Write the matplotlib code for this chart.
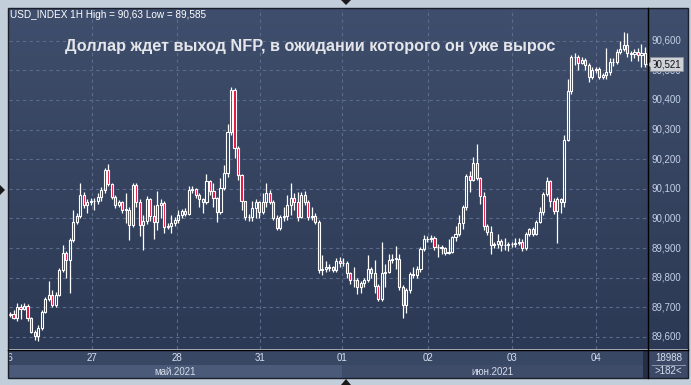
import numpy as np
import matplotlib.pyplot as plt
from matplotlib.patches import Rectangle, Polygon
from matplotlib.colors import LinearSegmentedColormap

plt.rcParams['font.family'] = ['Liberation Sans', 'DejaVu Sans']

# --- данные (часовые свечи USD_INDEX) ---
first_open = 89.675
closes = [
    89.678, 89.665, 89.702, 89.695, 89.705, 89.664, 89.618, 89.603, 89.630, 89.685,
    89.728, 89.742, 89.708, 89.742, 89.826, 89.883, 89.860, 89.927, 89.989, 90.008,
    90.079, 90.045, 90.057, 90.060, 90.058, 90.074, 90.096, 90.163, 90.115, 90.074,
    90.045, 90.055, 90.029, 90.030, 89.978, 90.113, 90.057, 89.978, 89.990, 90.065,
    90.008, 89.989, 90.045, 90.052, 89.972, 89.975, 89.985, 89.995, 90.012, 90.025,
    90.015, 90.096, 90.098, 90.079, 90.066, 90.055, 90.126, 90.092, 90.068, 90.023,
    90.102, 90.152, 90.291, 90.434, 90.237, 90.147, 90.059, 90.006, 90.004, 90.034,
    90.057, 90.022, 90.057, 90.087, 90.057, 90.001, 89.967, 90.006, 90.008, 90.045,
    90.068, 90.057, 90.006, 90.079, 90.057, 90.006, 90.008, 89.989, 89.826, 89.828,
    89.835, 89.835, 89.826, 89.858, 89.849, 89.851, 89.815, 89.792, 89.792, 89.768,
    89.783, 89.792, 89.828, 89.817, 89.772, 89.727, 89.815, 89.820, 89.860, 89.864,
    89.864, 89.770, 89.708, 89.759, 89.813, 89.808, 89.828, 89.896, 89.930, 89.930,
    89.933, 89.903, 89.903, 89.900, 89.885, 89.888, 89.936, 89.948, 89.984, 90.038,
    90.143, 90.130, 90.188, 90.136, 90.076, 89.975, 89.955, 89.910, 89.914, 89.925,
    89.910, 89.912, 89.913, 89.914, 89.918, 89.922, 89.899, 89.948, 89.964, 89.948,
    89.989, 90.023, 90.083, 90.126, 90.060, 90.026, 90.065, 90.057, 90.265, 90.430,
    90.544, 90.544, 90.526, 90.533, 90.518, 90.476, 90.501, 90.503, 90.476, 90.484,
    90.493, 90.529, 90.527, 90.563, 90.571, 90.585, 90.557, 90.554, 90.560, 90.552,
    90.557, 90.521,
]
highs = [
    89.685, 89.690, 89.714, 89.712, 89.715, 89.712, 89.668, 89.625, 89.640, 89.690,
    89.735, 89.790, 89.760, 89.752, 89.832, 89.912, 89.890, 89.935, 90.030, 90.020,
    90.119, 90.090, 90.065, 90.070, 90.068, 90.085, 90.105, 90.170, 90.184, 90.120,
    90.080, 90.062, 90.060, 90.085, 90.040, 90.121, 90.118, 90.065, 90.010, 90.075,
    90.070, 90.045, 90.092, 90.065, 90.060, 89.985, 90.010, 90.005, 90.030, 90.032,
    90.035, 90.110, 90.108, 90.102, 90.085, 90.070, 90.150, 90.130, 90.120, 90.072,
    90.135, 90.180, 90.320, 90.445, 90.440, 90.245, 90.150, 90.060, 90.015, 90.060,
    90.065, 90.060, 90.085, 90.120, 90.095, 90.062, 90.010, 90.012, 90.040, 90.078,
    90.120, 90.085, 90.090, 90.090, 90.092, 90.062, 90.040, 90.020, 89.995, 89.878,
    89.858, 89.845, 89.840, 89.866, 89.870, 89.865, 89.855, 89.820, 89.836, 89.800,
    89.790, 89.800, 89.875, 89.835, 89.860, 89.780, 89.922, 89.845, 89.880, 89.880,
    89.906, 89.880, 89.775, 89.765, 89.820, 89.835, 89.840, 89.905, 89.945, 89.940,
    89.945, 89.940, 89.915, 89.910, 89.905, 89.930, 89.940, 89.975, 90.010, 90.045,
    90.150, 90.160, 90.207, 90.251, 90.140, 90.090, 89.980, 89.975, 89.920, 89.948,
    89.930, 89.935, 89.920, 89.920, 89.935, 89.935, 89.930, 89.955, 89.968, 89.970,
    89.995, 90.040, 90.090, 90.141, 90.130, 90.070, 90.072, 90.068, 90.280, 90.470,
    90.552, 90.558, 90.550, 90.545, 90.540, 90.525, 90.512, 90.512, 90.510, 90.490,
    90.575, 90.540, 90.540, 90.570, 90.600, 90.630, 90.627, 90.565, 90.570, 90.575,
    90.590, 90.580,
]
lows = [
    89.668, 89.660, 89.655, 89.660, 89.690, 89.655, 89.612, 89.590, 89.585, 89.625,
    89.680, 89.720, 89.700, 89.700, 89.738, 89.820, 89.800, 89.750, 89.920, 89.980,
    90.000, 90.035, 90.020, 90.045, 90.030, 90.050, 90.060, 90.085, 90.110, 90.065,
    90.035, 90.040, 90.020, 89.985, 89.927, 89.970, 90.040, 89.940, 89.893, 89.980,
    89.990, 89.930, 89.960, 90.000, 89.950, 89.965, 89.950, 89.975, 89.985, 90.000,
    90.008, 90.010, 90.085, 90.070, 90.040, 90.020, 90.050, 90.080, 90.040, 89.988,
    90.015, 90.095, 90.140, 90.280, 90.205, 90.130, 90.030, 89.995, 89.992, 89.990,
    90.000, 90.000, 90.015, 90.040, 90.050, 89.995, 89.960, 89.960, 89.990, 89.995,
    90.010, 90.030, 89.990, 90.000, 90.045, 89.995, 89.995, 89.980, 89.815, 89.808,
    89.820, 89.822, 89.818, 89.820, 89.835, 89.838, 89.800, 89.780, 89.770, 89.745,
    89.750, 89.770, 89.785, 89.800, 89.750, 89.720, 89.720, 89.770, 89.815, 89.850,
    89.830, 89.760, 89.664, 89.680, 89.750, 89.800, 89.800, 89.820, 89.890, 89.920,
    89.920, 89.895, 89.870, 89.880, 89.875, 89.880, 89.885, 89.925, 89.940, 89.965,
    90.030, 90.090, 90.125, 90.130, 90.050, 89.960, 89.945, 89.880, 89.900, 89.900,
    89.890, 89.895, 89.890, 89.905, 89.905, 89.910, 89.890, 89.895, 89.940, 89.940,
    89.945, 89.985, 90.010, 90.075, 90.040, 90.015, 89.918, 90.020, 90.040, 90.260,
    90.420, 90.518, 90.500, 90.520, 90.500, 90.460, 90.470, 90.490, 90.470, 90.470,
    90.470, 90.485, 90.515, 90.520, 90.555, 90.565, 90.545, 90.530, 90.540, 90.530,
    90.510, 90.510,
]
opens = [first_open] + closes[:-1]

price_levels = [89.6, 89.7, 89.8, 89.9, 90.0, 90.1, 90.2, 90.3, 90.4, 90.5, 90.6]
price_labels = ['89,600', '89,700', '89,800', '89,900', '90,000', '90,100',
                '90,200', '90,300', '90,400', '90,500', '90,600']
day_labels = ['26', '27', '28', '31', '01', '02', '03', '04']
day_starts = [-0.6, 23.4, 47.6, 71.3, 94.6, 119.1, 143.1, 167.1]
month_labels = ['май.2021', 'июн.2021']
last_price = 90.521
last_label = '90,521'
header = 'USD_INDEX 1H High = 90,63 Low = 89,585'
title = 'Доллар ждет выход NFP, в ожидании которого он уже вырос'
total_bars = '18988'
shown_bars = '>182<'

# --- оформление ---
W, H = 691, 385
XLIM = (-0.285, 181.86)
YLIM = (89.5595, 90.710)
frame_col = '#c3cedb'
red = '#e3103c'
grid_col = '#5b6b8b'
bg_cmap = LinearSegmentedColormap.from_list('bg', ['#3f4e6c', '#2c3954'])
grad = np.linspace(0, 1, 256).reshape(-1, 1)

fig = plt.figure(figsize=(W / 100, H / 100), dpi=100)
fig.patch.set_facecolor(frame_col)


def px_axes(x0, y0, x1, y1, z=1):
    a = fig.add_axes([x0 / W, 1 - y1 / H, (x1 - x0) / W, (y1 - y0) / H])
    a.set_zorder(z)
    return a


# основная область
ax = px_axes(9, 8, 648, 349)
ax.set_xlim(*XLIM)
ax.set_ylim(*YLIM)
ax.imshow(grad, cmap=bg_cmap, extent=[XLIM[0], XLIM[1], YLIM[0], YLIM[1]],
          aspect='auto', zorder=0)
for s in ax.spines.values():
    s.set_visible(False)
ax.set_xticks([])
ax.set_yticks([])

for lv in price_levels:
    ax.axhline(lv, color=grid_col, lw=0.8, ls=(0, (3, 3)), zorder=1)
for d in day_starts[1:]:
    ax.axvline(d, color=grid_col, lw=0.8, ls=(0, (3, 3)), zorder=1)

# свечи
for i, (o, h, l, c) in enumerate(zip(opens, highs, lows, closes)):
    lo, hi = min(o, c), max(o, c)
    if hi - lo < 0.002:
        mid = (hi + lo) / 2
        lo, hi = mid - 0.001, mid + 0.001
    ax.vlines(i, hi, max(h, hi), color='white', lw=0.9, zorder=3)
    ax.vlines(i, min(l, lo), lo, color='white', lw=0.9, zorder=3)
    fc = red if c < o else 'none'
    ax.add_patch(Rectangle((i - 0.3, lo), 0.6, hi - lo, facecolor=fc,
                           edgecolor='white', lw=0.8, zorder=4))

ax.text(1 / 639, 1 - 7 / 341, header, transform=ax.transAxes, ha='left', va='center',
        fontsize=7.2, color='white', zorder=6)
ax.text(301 / 639, 1 - 39 / 341, title, transform=ax.transAxes, ha='center', va='center',
        fontsize=11.7, fontweight='bold', color='#e4e6ea', zorder=6)

# правая шкала цен
ax_r = px_axes(649, 8, 688, 349)
ax_r.set_xlim(0, 39)
ax_r.set_ylim(*YLIM)
ax_r.imshow(grad, cmap=bg_cmap, extent=[0, 39, YLIM[0], YLIM[1]], aspect='auto', zorder=0)
ax_r.axis('off')
for lv, lab in zip(price_levels, price_labels):
    ax_r.text(3, lv, lab, ha='left', va='center', fontsize=7, color='#c3d0e6', zorder=2)
ax_r.text(3, last_price, last_label, ha='left', va='center', fontsize=7, color='#111111',
          zorder=5, bbox=dict(boxstyle='square,pad=0.18', fc='#cfd2d8', ec='#8a8f99', lw=0.6))
ax_r.plot([0.8], [last_price], marker='<', ms=4, color='#cfd2d8', zorder=5, clip_on=False)

# нижняя шкала дат
ax_b = px_axes(9, 351, 648, 378)
ax_b.set_xlim(*XLIM)
ax_b.set_ylim(0, 1)
ax_b.axis('off')
ax_b.add_patch(Rectangle((XLIM[0], 0), XLIM[1] - XLIM[0], 1, fc='#384764', ec='none', zorder=0))
ax_b.add_patch(Rectangle((XLIM[0], 0), day_starts[4] - XLIM[0], 0.5, fc='#4b5a78', ec='none', zorder=1))
ax_b.add_patch(Rectangle((day_starts[4], 0), 180.4 - day_starts[4], 0.5, fc='#3e4c69', ec='none', zorder=1))
ax_b.add_patch(Rectangle((180.4, 0), XLIM[1] - 180.4, 1, fc='#242f47', ec='none', zorder=1))
for d, lab in zip(day_starts, day_labels):
    ax_b.text(d, 0.73, lab, ha='center', va='center', fontsize=7, color='#d6deec',
              zorder=3, clip_on=True)
ax_b.text((XLIM[0] + day_starts[4]) / 2, 0.24, month_labels[0], ha='center', va='center',
          fontsize=7, color='#d6deec', zorder=3)
ax_b.text((day_starts[4] + 180.4) / 2, 0.24, month_labels[1], ha='center', va='center',
          fontsize=7, color='#d6deec', zorder=3)

ax_c = px_axes(649, 351, 688, 378)
ax_c.set_xlim(0, 1)
ax_c.set_ylim(0, 1)
ax_c.axis('off')
ax_c.add_patch(Rectangle((0, 0), 1, 1, fc='#3b4966', ec='none'))
ax_c.text(0.5, 0.75, total_bars, ha='center', va='center', fontsize=7, color='#d6deec')
ax_c.text(0.5, 0.25, shown_bars, ha='center', va='center', fontsize=7, color='#d6deec')
ax_c.plot([0.08, 0.92], [0.5, 0.5], color='#8a97ad', lw=0.7)

# рамки и стрелки поверх всего
ov = px_axes(0, 0, W, H, z=10)
ov.set_xlim(0, W)
ov.set_ylim(H, 0)
ov.axis('off')
ov.patch.set_alpha(0)
ov.add_patch(Rectangle((8, 7.5), 680, 370.5, fc='none', ec='#1a1f2b', lw=1.0))
ov.plot([648.5, 648.5], [8, 378], color='black', lw=1.0)
ov.plot([8, 688], [350, 350], color='black', lw=1.0)
for tri in ([(341, 0), (351, 0), (346, 5)],
            [(341, 385), (351, 385), (346, 379)],
            [(0, 185), (0, 195), (5, 190)]):
    ov.add_patch(Polygon(tri, closed=True, fc='#1a1a1a', ec='none'))

fig.savefig('out.png', dpi=100, facecolor=fig.get_facecolor())
